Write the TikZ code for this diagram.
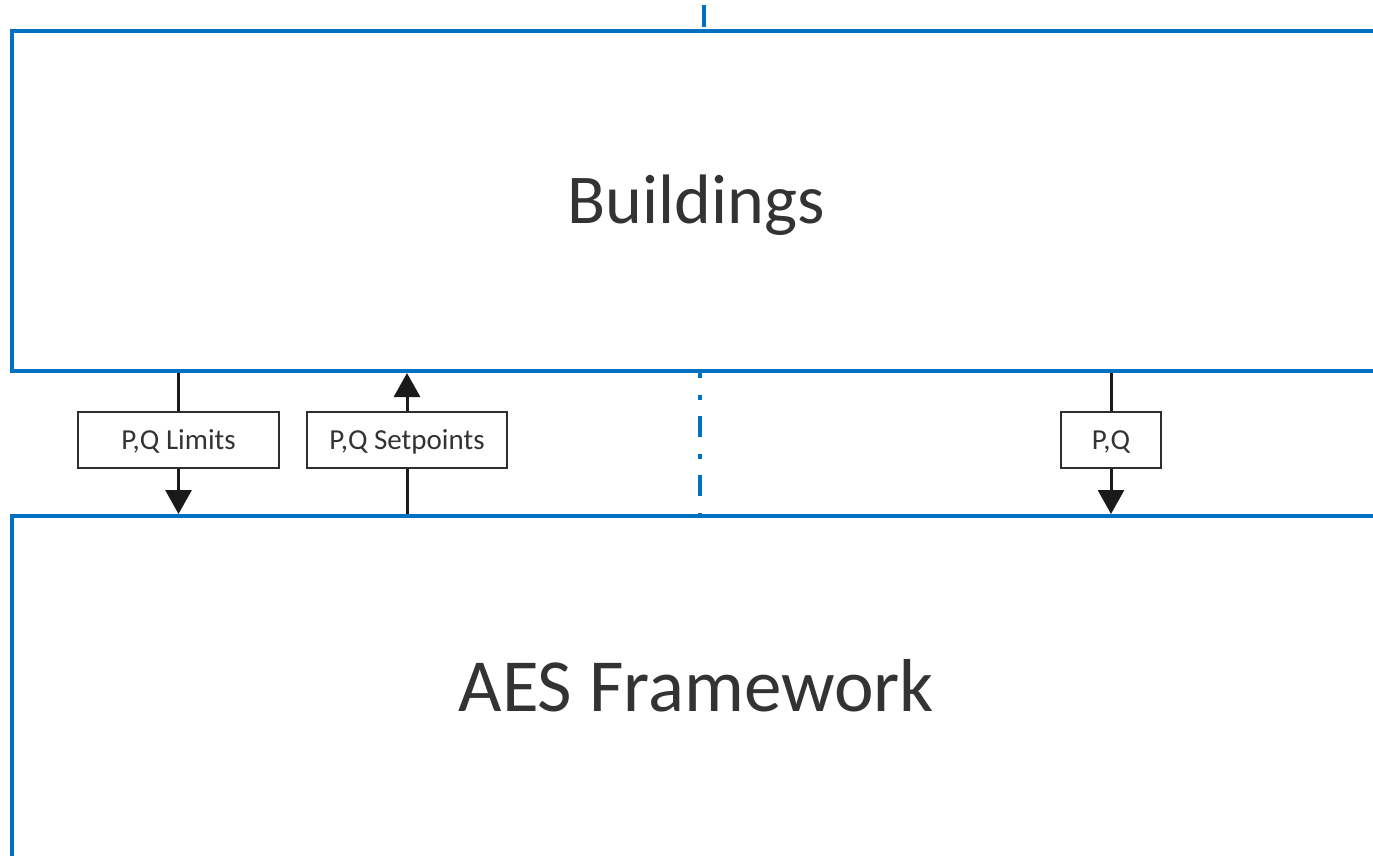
\documentclass[tikz,border=0pt]{standalone}
\usepackage{fontspec}
\setmainfont{Carlito}
\usetikzlibrary{arrows.meta}
\definecolor{layerblue}{HTML}{0070C0}
\definecolor{ink}{HTML}{333333}
\definecolor{arrowink}{HTML}{1A1A1A}
\definecolor{framegray}{HTML}{2E2E2E}
\begin{document}
\begin{tikzpicture}[x=1pt,y=-1pt,
  layer/.style={draw=layerblue, line width=4pt, fill=white, inner sep=0pt,
    minimum width=1369.5pt, text=ink, text depth=0pt},
  flowlabel/.style={draw=framegray, line width=1.5pt, fill=white, inner sep=0pt,
    minimum height=56pt, font=\fontsize{29}{34}\selectfont, text=ink,
    text height=18.7pt, text depth=0pt},
  wire/.style={draw=arrowink, line width=3pt},
  flow/.style={wire, -{Triangle[width=26pt,length=24pt]}},
  divider/.style={draw=layerblue, line width=4pt,
    dash pattern=on 21pt off 17pt on 5pt off 16pt, dash phase=16pt}]
\useasboundingbox (0,0) rectangle (1373,855);
\clip (0,0) rectangle (1373,855);

% the two layers
\node[layer, minimum height=340pt,
  font=\fontsize{70}{84}\selectfont, text height=45pt] (b) at (696.25,201) {Buildings};
\node[layer, minimum height=343pt,
  font=\fontsize{75}{90}\selectfont, text height=48.3pt] (a) at (696.25,687.5) {AES Framework};

% boundary marks
\coordinate (tm) at (704,5);
\draw[draw=layerblue, line width=4pt] (tm) -- ++(0,22);
\draw[divider] (b.south -| 700,0) -- (a.north -| 700,0);

% exchanged quantities
\node[flowlabel, minimum width=201pt] (lim) at (178.5,440) {P,Q Limits};
\node[flowlabel, minimum width=200pt] (set) at (407,440) {P,Q Setpoints};
\node[flowlabel, minimum width=100pt] (pq)  at (1111,440) {P,Q};

\draw[wire] (lim |- b.south) -- (lim.north);
\draw[flow] (lim.south) -- (lim |- a.north);

\draw[wire] (set.south) -- (set |- a.north);
\draw[flow] (set.north) -- (set |- b.south);

\draw[wire] (pq |- b.south) -- (pq.north);
\draw[flow] (pq.south) -- (pq |- a.north);
\end{tikzpicture}
\end{document}
